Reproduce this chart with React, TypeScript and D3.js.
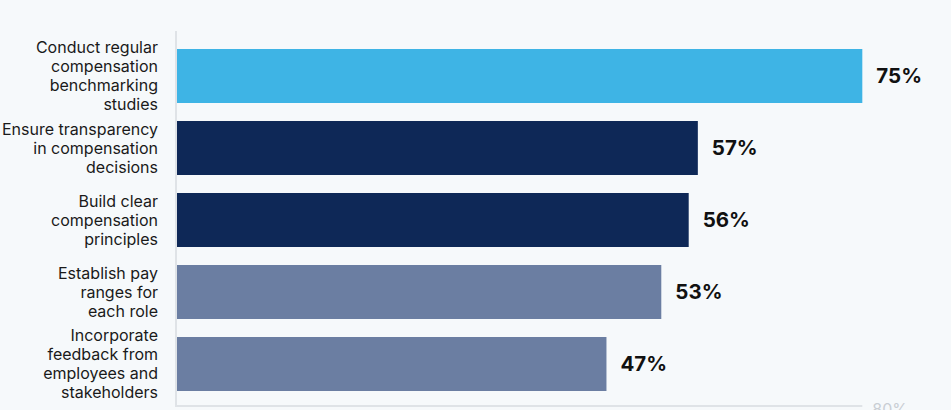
import React from "react";
import * as d3 from "d3";

const categories = [
  ["Conduct regular", "compensation", "benchmarking", "studies"],
  ["Ensure transparency", "in compensation", "decisions"],
  ["Build clear", "compensation", "principles"],
  ["Establish pay", "ranges for", "each role"],
  ["Incorporate", "feedback from", "employees and", "stakeholders"],
];
const values = [75, 57, 56, 53, 47];
const barColors = ["#3eb4e5", "#0e2857", "#0e2857", "#6b7ea2", "#6b7ea2"];
const axisTicks = [80];

const W = 951;
const H = 410;

export default function App() {
  const x = d3.scaleLinear().domain([0, 80]).range([177, 908]);
  const ids = values.map((_, i) => String(i));
  const y = d3.scaleBand().domain(ids).range([40, 400]).paddingInner(0.25).paddingOuter(0.125);
  const font = "Inter, 'Noto Sans', sans-serif";
  const lh = 19;
  const maxV = d3.max(values) as number;
  return (
    <div style={{ position: "fixed", left: 0, top: 0, width: W, height: H }}>
      <svg width={W} height={H} style={{ display: "block", background: "#f6f9fb" }}>
        <line x1={176} x2={176} y1={31} y2={407} stroke="#dfe3e7" strokeWidth={2} />
        <line x1={176} x2={x(maxV)} y1={406} y2={406} stroke="#dfe3e7" strokeWidth={2} />
        {axisTicks.map((t) => (
          <text key={t} x={x(t)} y={415} textAnchor="end" fontFamily={font} fontSize={16} fill="#c9ced4">
            {t}%
          </text>
        ))}
        {values.map((v, i) => {
          const y0 = y(String(i)) as number;
          const bw = y.bandwidth();
          const cy = y0 + bw / 2;
          const lines = categories[i];
          const startY = cy - ((lines.length - 1) * lh) / 2;
          return (
            <g key={i}>
              <rect x={177} y={y0} width={x(v) - 177} height={bw} fill={barColors[i]} />
              <text
                x={x(v) + 14}
                y={cy}
                dy="0.36em"
                fontFamily={font}
                fontWeight={700}
                fontSize={20.5}
                fill="#111"
              >
                {v}%
              </text>
              <text fontFamily={font} fontSize={16} fill="#1a1a1a" textAnchor="end">
                {lines.map((l, j) => (
                  <tspan key={j} x={158} y={startY + j * lh} dy="0.36em">
                    {l}
                  </tspan>
                ))}
              </text>
            </g>
          );
        })}
      </svg>
    </div>
  );
}
